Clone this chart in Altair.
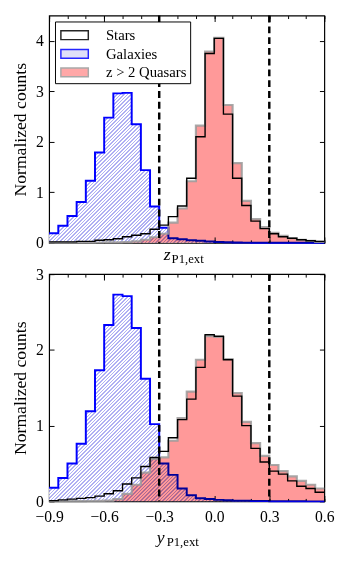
import math
import altair as alt
import pandas as pd

# ---------------- data (30 bins of width 0.05 from -0.9 to 0.6) ----------------
edges = [round(-0.9 + 0.05 * i, 2) for i in range(31)]
series_names = ["Stars", "Galaxies", "z > 2 Quasars"]

stars_top = [0.02, 0.02, 0.02, 0.03, 0.03, 0.05, 0.06, 0.08, 0.12, 0.15,
             0.18, 0.27, 0.35, 0.52, 0.73, 1.28, 2.10, 3.75, 4.05, 2.55,
             1.28, 0.74, 0.43, 0.28, 0.18, 0.12, 0.09, 0.06, 0.04, 0.03]
gal_top = [0.19, 0.34, 0.53, 0.81, 1.23, 1.79, 2.48, 2.96, 2.97, 2.35,
           1.44, 0.72, 0.30, 0.09, 0.07, 0.05, 0.04, 0.025, 0.015, 0.01,
           0.005, 0.004, 0.003, 0.002, 0.001, 0.0, 0.0, 0.0, 0.0, 0.0]
qso_top = [0.003, 0.003, 0.003, 0.004, 0.005, 0.006, 0.008, 0.01, 0.015, 0.03,
           0.06, 0.11, 0.18, 0.40, 0.68, 1.22, 2.32, 3.79, 4.06, 2.73,
           1.58, 0.83, 0.47, 0.31, 0.20, 0.14, 0.09, 0.06, 0.04, 0.02]

stars_bot = [0.01, 0.02, 0.03, 0.04, 0.05, 0.07, 0.10, 0.14, 0.23, 0.31,
             0.46, 0.58, 0.66, 0.84, 1.08, 1.35, 1.77, 2.20, 2.18, 1.87,
             1.39, 1.00, 0.70, 0.52, 0.40, 0.36, 0.27, 0.20, 0.17, 0.12]
gal_bot = [0.18, 0.31, 0.50, 0.76, 1.19, 1.73, 2.33, 2.73, 2.71, 2.29,
           1.62, 1.02, 0.50, 0.35, 0.17, 0.08, 0.04, 0.03, 0.02, 0.015,
           0.01, 0.01, 0.005, 0.005, 0.003, 0.002, 0.001, 0.001, 0.0, 0.0]
qso_bot = [0.002, 0.002, 0.003, 0.004, 0.005, 0.007, 0.01, 0.03, 0.10, 0.22,
           0.38, 0.56, 0.58, 0.80, 1.10, 1.45, 1.87, 2.18, 2.17, 1.88,
           1.43, 1.05, 0.77, 0.60, 0.48, 0.40, 0.33, 0.27, 0.22, 0.17]

cuts = [-0.3, 0.3]
major_x = [-0.9, -0.6, -0.3, 0.0, 0.3, 0.6]
minor_x = [round(-0.9 + 0.1 * i, 1) for i in range(16)]

FONT = "Liberation Serif"
W, H = 281, 232
HATCH = "#dadaf7"
HATCH_LINE = "#b0b0f3"
RED = "#ff9999"
EDGE = "#9a9a9a"

fill_scale = alt.Scale(domain=series_names, range=["white", HATCH, RED])
stroke_scale = alt.Scale(domain=series_names, range=["black", "blue", EDGE])


def hatch_gradient(bw, bh, spacing=2.6, frac=0.45):
    """Linear gradient of sharp stripes, giving '////' hatching at 45 degrees
    inside a bounding box of bw x bh pixels."""
    k = (1 / bh + 1 / bw) / (1 / bh ** 2 + 1 / bw ** 2)
    x2, y2 = k / bh, k / bw
    n = int((bw + bh) / math.sqrt(2) / spacing)
    stops = []
    for i in range(n):
        a = i / n
        b = (i + frac) / n
        c = (i + 1) / n
        stops += [alt.GradientStop(color=HATCH_LINE, offset=round(a, 5)),
                  alt.GradientStop(color=HATCH_LINE, offset=round(b, 5)),
                  alt.GradientStop(color="white", offset=round(b, 5)),
                  alt.GradientStop(color="white", offset=round(c, 5))]
    return alt.LinearGradient(gradient="linear", stops=stops, x1=0, y1=0,
                              x2=round(x2, 5), y2=round(y2, 5))


def step_df(vals, name):
    return pd.DataFrame({"edge": edges, "value": list(vals) + [vals[-1]], "series": name})


def panel(stars, gal, qso, ymax, with_legend, sub, sub_y_main, sub_y_sub, labels_x):
    xsc = alt.Scale(domain=[-0.9, 0.6], nice=False, zero=False)
    ysc = alt.Scale(domain=[0, ymax], nice=False, zero=True)
    yt = list(range(0, int(ymax) + 1))

    def xax(orient, vals, size, labels=False):
        return alt.Axis(orient=orient, values=vals, tickSize=size, offset=-size,
                        labels=labels, domain=False, grid=False, title=None,
                        format=".1f", labelPadding=8, labelFont=FONT,
                        labelFontSize=16, labelColor="black", tickColor="black",
                        labelFlush=False, labelOverlap=False)

    def yax(orient, labels=False, title=None):
        kw = dict(orient=orient, values=yt, tickSize=5, offset=-5, labels=labels,
                  domain=False, grid=False, format="d", labelPadding=6,
                  labelFont=FONT, labelFontSize=16, labelColor="black",
                  tickColor="black", labelFlush=False)
        if title:
            kw.update(title=title, titleFont=FONT, titleFontSize=18,
                      titleFontWeight="normal", titleColor="black", titlePadding=6)
        else:
            kw.update(title=None)
        return alt.Axis(**kw)

    dg, dq, ds = step_df(gal, "Galaxies"), step_df(qso, "z > 2 Quasars"), step_df(stars, "Stars")
    leg = alt.Legend(title=None) if with_legend else None

    def fill_enc():
        return alt.Fill("series:N", scale=fill_scale, legend=leg)

    def stroke_enc():
        return alt.Stroke("series:N", scale=stroke_scale, legend=leg)

    peak_px = max(gal) / ymax * H
    gal_area = alt.Chart(dg).mark_area(interpolate="step-after",
                                       fill=hatch_gradient(W, peak_px)).encode(
        x=alt.X("edge:Q", scale=xsc, axis=xax("bottom", major_x, 6, labels_x)),
        y=alt.Y("value:Q", scale=ysc, axis=yax("left", True, "Normalized counts")))
    gal_line = alt.Chart(dg).mark_line(interpolate="step-after", strokeWidth=2).encode(
        x=alt.X("edge:Q", scale=xsc, axis=xax("bottom", minor_x, 3)),
        y=alt.Y("value:Q", scale=ysc, axis=yax("right")),
        stroke=stroke_enc())
    qso_area = alt.Chart(dq).mark_area(interpolate="step-after", blend="multiply").encode(
        x=alt.X("edge:Q", scale=xsc, axis=xax("top", major_x, 6)),
        y=alt.Y("value:Q", scale=ysc, axis=None),
        fill=fill_enc())
    qso_line = alt.Chart(dq).mark_line(interpolate="step-after", strokeWidth=2.2,
                                       opacity=0.85).encode(
        x=alt.X("edge:Q", scale=xsc, axis=xax("top", minor_x, 3)),
        y=alt.Y("value:Q", scale=ysc, axis=None),
        stroke=stroke_enc())
    star_line = alt.Chart(ds).mark_line(interpolate="step-after", strokeWidth=1.4).encode(
        x=alt.X("edge:Q", scale=xsc, axis=None),
        y=alt.Y("value:Q", scale=ysc, axis=None),
        stroke=stroke_enc())
    rules = alt.Chart(pd.DataFrame({"cut": cuts})).mark_rule(
        color="black", strokeWidth=2.5, strokeDash=[7, 4]).encode(
        x=alt.X("cut:Q", scale=xsc, axis=None))
    one = alt.Data(values=[{"a": 1}])
    t_main = alt.Chart(one).mark_text(text=sub[0], font=FONT, fontSize=18,
                                      fontStyle="italic", align="left",
                                      baseline="alphabetic", color="black").encode(
        x=alt.value(sub[1]), y=alt.value(sub_y_main))
    t_sub = alt.Chart(one).mark_text(text="P1,ext", font=FONT, fontSize=13,
                                     align="left", baseline="alphabetic",
                                     color="black").encode(
        x=alt.value(sub[2]), y=alt.value(sub_y_sub))

    return alt.layer(gal_area, gal_line, qso_area, qso_line, star_line, rules,
                     t_main, t_sub).resolve_axis(x="independent", y="independent").properties(
        width=W, height=H)


top = panel(stars_top, gal_top, qso_top, 4.5, True, ("z", 117, 125), H + 18, H + 21, False)
bot = panel(stars_bot, gal_bot, qso_bot, 3, False, ("y", 110, 120), H + 42, H + 46, True)

chart = alt.vconcat(top, bot, spacing=32, bounds="flush").properties(
    padding={"left": 3, "top": 0, "right": 5, "bottom": 0}
).configure_view(stroke="black", strokeWidth=1.2).configure_legend(
    orient="top-left", offset=6, padding=3, strokeColor="black", fillColor="white",
    cornerRadius=0, labelFont=FONT, labelFontSize=15, labelColor="black",
    symbolType="M-1.4,-0.45H1.4V0.45H-1.4Z", symbolSize=400, symbolStrokeWidth=1.5,
    symbolOffset=6, labelOffset=21, rowPadding=0, labelLimit=300
)

chart.save("out.html", embed_options={"renderer": "svg", "actions": False})
